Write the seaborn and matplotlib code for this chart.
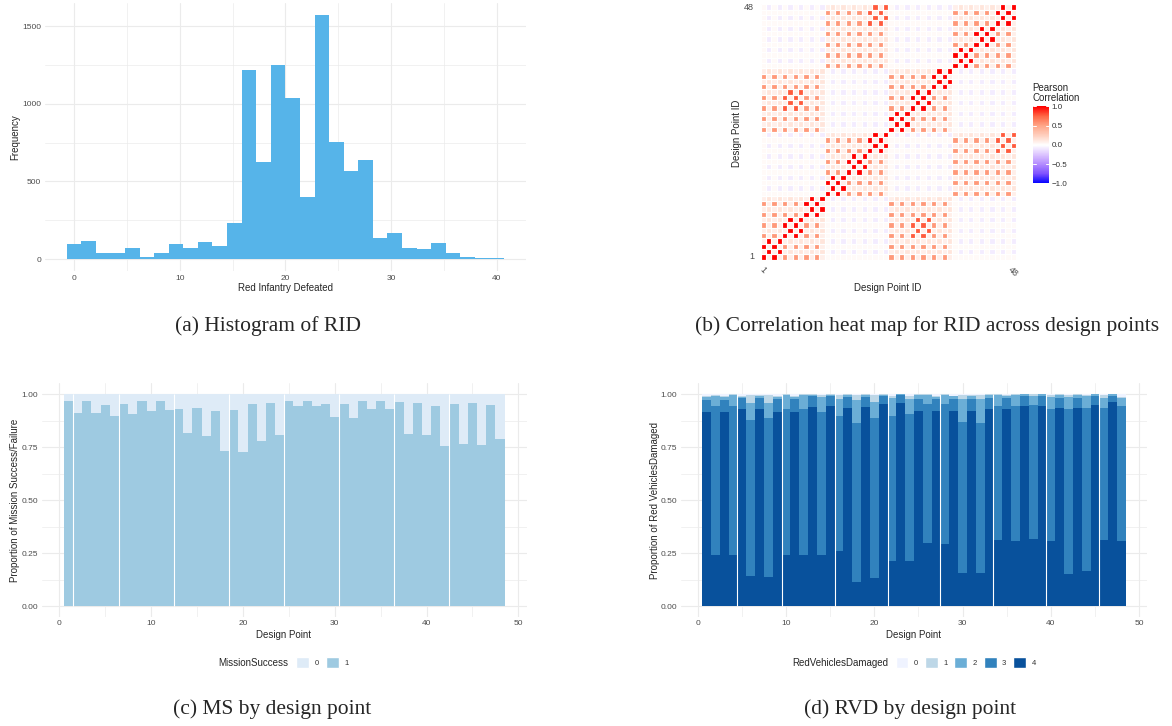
import matplotlib
matplotlib.use("Agg")
import matplotlib.pyplot as plt
from matplotlib.colors import LinearSegmentedColormap
from matplotlib.patches import Patch
from matplotlib.ticker import FuncFormatter
import numpy as np
import pandas as pd
import seaborn as sns

W, H = 1172, 726

# (a) Red Infantry Defeated: 30 bins spanning 0..40
rid_min, rid_max = 0, 40
rid_counts = [95, 114, 37, 37, 69, 11, 37, 95, 69, 107, 82, 230, 1216, 623, 1249,
              1036, 398, 1571, 752, 565, 636, 133, 165, 69, 62, 101, 37, 11, 6, 6]

# (b) correlation of RID between design points, coded per cell
corr_levels = {"R": 1.0, "D": 0.78, "S": 0.55, "s": 0.14, "p": 0.08, ".": 0.03, "v": -0.08}
corr_rows = [
    "RpRpSpSpSpSp............SpSpSpSpSpSp............",
    "pRpRpspspsps.v.v.v.v.v.vpspspspspsps.v.v.v.v.v.v",
    "RpRpSpSpSpSp............SpSpSpSpSpSp............",
    "pRpRpspspsps.v.v.v.v.v.vpspspspspsps.v.v.v.v.v.v",
    "SpSpRpRpSpSp............SpSpDpDpSpSp............",
    "pspspRpRpsps.v.v.v.v.v.vpspspDpDpsps.v.v.v.v.v.v",
    "SpSpRpRpSpSp............SpSpDpDpSpSp............",
    "pspspRpRpsps.v.v.v.v.v.vpspspDpDpsps.v.v.v.v.v.v",
    "SpSpSpSpRpRp............SpSpSpSpSpSp............",
    "pspspspspRpR.v.v.v.v.v.vpspspspspsps.v.v.v.v.v.v",
    "SpSpSpSpRpRp............SpSpSpSpSpSp............",
    "pspspspspRpR.v.v.v.v.v.vpspspspspsps.v.v.v.v.v.v",
    "............RpRpSpSpSpSp............SpSpSpSpSpSp",
    ".v.v.v.v.v.vpRpRpspspsps.v.v.v.v.v.vpspspspspsps",
    "............RpRpSpSpSpSp............SpSpSpSpSpSp",
    ".v.v.v.v.v.vpRpRpspspsps.v.v.v.v.v.vpspspspspsps",
    "............SpSpRpRpSpSp............SpSpSpSpSpSp",
    ".v.v.v.v.v.vpspspRpRpsps.v.v.v.v.v.vpspspspspsps",
    "............SpSpRpRpSpSp............SpSpSpSpSpSp",
    ".v.v.v.v.v.vpspspRpRpsps.v.v.v.v.v.vpspspspspsps",
    "............SpSpSpSpRpRp............SpSpSpSpDpDp",
    ".v.v.v.v.v.vpspspspspRpR.v.v.v.v.v.vpspspspspDpD",
    "............SpSpSpSpRpRp............SpSpSpSpDpDp",
    ".v.v.v.v.v.vpspspspspRpR.v.v.v.v.v.vpspspspspDpD",
    "SpSpSpSpSpSp............RpRpSpSpSpSp............",
    "pspspspspsps.v.v.v.v.v.vpRpRpspspsps.v.v.v.v.v.v",
    "SpSpSpSpSpSp............RpRpSpSpSpSp............",
    "pspspspspsps.v.v.v.v.v.vpRpRpspspsps.v.v.v.v.v.v",
    "SpSpDpDpSpSp............SpSpRpRpSpSp............",
    "pspspDpDpsps.v.v.v.v.v.vpspspRpRpsps.v.v.v.v.v.v",
    "SpSpDpDpSpSp............SpSpRpRpSpSp............",
    "pspspDpDpsps.v.v.v.v.v.vpspspRpRpsps.v.v.v.v.v.v",
    "SpSpSpSpSpSp............SpSpSpSpRpRp............",
    "pspspspspsps.v.v.v.v.v.vpspspspspRpR.v.v.v.v.v.v",
    "SpSpSpSpSpSp............SpSpSpSpRpRp............",
    "pspspspspsps.v.v.v.v.v.vpspspspspRpR.v.v.v.v.v.v",
    "............SpSpSpSpSpSp............RpRpSpSpSpSp",
    ".v.v.v.v.v.vpspspspspsps.v.v.v.v.v.vpRpRpspspsps",
    "............SpSpSpSpSpSp............RpRpSpSpSpSp",
    ".v.v.v.v.v.vpspspspspsps.v.v.v.v.v.vpRpRpspspsps",
    "............SpSpSpSpSpSp............SpSpRpRpSpSp",
    ".v.v.v.v.v.vpspspspspsps.v.v.v.v.v.vpspspRpRpsps",
    "............SpSpSpSpSpSp............SpSpRpRpSpSp",
    ".v.v.v.v.v.vpspspspspsps.v.v.v.v.v.vpspspRpRpsps",
    "............SpSpSpSpDpDp............SpSpSpSpRpRp",
    ".v.v.v.v.v.vpspspspspDpD.v.v.v.v.v.vpspspspspRpR",
    "............SpSpSpSpDpDp............SpSpSpSpRpRp",
    ".v.v.v.v.v.vpspspspspDpD.v.v.v.v.v.vpspspspspRpR",
]

# (c) proportion of mission success per design point
design_points = list(range(1, 49))
ms_success = [0.967, 0.910, 0.967, 0.910, 0.948, 0.896, 0.953, 0.906, 0.967, 0.920, 0.967, 0.925,
              0.929, 0.816, 0.934, 0.802, 0.920, 0.732, 0.925, 0.727, 0.953, 0.779, 0.958, 0.807,
              0.967, 0.943, 0.967, 0.943, 0.953, 0.892, 0.953, 0.887, 0.967, 0.929, 0.967, 0.929,
              0.962, 0.812, 0.958, 0.807, 0.943, 0.755, 0.953, 0.765, 0.958, 0.760, 0.948, 0.788]
ms_gaps = [1.5, 6.5, 12.5, 18.5, 24.5, 30.5, 36.5, 42.5]

# (d) proportion of red vehicles damaged (levels 0..4) per design point
rvd_4 = [.917, .243, .917, .243, .931, .143, .931, .140, .917, .243, .917, .243,
         .939, .243, .943, .261, .934, .115, .939, .133, .953, .213, .958, .213,
         .920, .298, .920, .294, .920, .157, .920, .157, .929, .312, .929, .308,
         .943, .317, .943, .308, .934, .152, .934, .166, .948, .312, .962, .308]
rvd_3 = [.055, .700, .055, .700, .052, .735, .052, .747, .059, .686, .059, .686,
         .053, .672, .049, .635, .053, .748, .048, .754, .038, .683, .037, .693,
         .056, .655, .056, .659, .056, .711, .056, .706, .054, .631, .054, .635,
         .049, .631, .049, .621, .049, .777, .049, .768, .044, .622, .030, .635]
rvd_2 = [.013, .047, .012, .054, .004, .080, .007, .071, .009, .068, .010, .068,
         .005, .072, .005, .080, .008, .109, .010, .075, .006, .085, .005, .070,
         .019, .042, .010, .044, .014, .108, .014, .113, .012, .054, .007, .054,
         .008, .044, .008, .058, .012, .058, .012, .058, .008, .047, .008, .038]
rvd_1 = [.005, .007, .006, .003, .005, .039, .005, .039, .005, .003, .004, .003,
         .003, .010, .003, .021, .005, .025, .003, .035, .003, .009, .000, .014,
         .005, .005, .004, .003, .000, .019, .005, .019, .005, .003, .005, .003,
         .000, .008, .000, .010, .005, .008, .005, .005, .000, .014, .000, .006]
rvd_0 = [.010, .003, .010, .000, .008, .003, .005, .003, .010, .000, .010, .000,
         .000, .003, .000, .003, .000, .003, .000, .003, .000, .010, .000, .010,
         .000, .000, .010, .000, .010, .005, .005, .005, .000, .000, .005, .000,
         .000, .000, .000, .003, .000, .005, .000, .003, .000, .005, .000, .013]
rvd_gaps = [4.5, 9.5, 15.5, 21.5, 27.5, 33.5, 39.5, 45.5]

hist_color = "#56B4E9"
ms_colors = ["#DEEBF7", "#9ECAE1"]
rvd_colors = ["#EFF3FF", "#BDD7E7", "#6BAED6", "#3182BD", "#08519C"]
grid_color = "#EBEBEB"
tick_color = "#4D4D4D"

sns.set_theme(style="white")
plt.rcParams["font.family"] = ["Liberation Sans", "DejaVu Sans"]

fig = plt.figure(figsize=(W / 100, H / 100), dpi=100)


def box(left, top, right, bottom):
    return [left / W, 1 - bottom / H, (right - left) / W, (bottom - top) / H]


def ftext(x, y, s, **kw):
    kw.setdefault("ha", "center")
    kw.setdefault("va", "center")
    fig.text(x / W, 1 - y / H, s, **kw)


def style_axes(ax, xticks, yticks, xminor, yminor, ylabels=None):
    ax.set_xticks(xticks)
    ax.set_yticks(yticks)
    if ylabels is not None:
        ax.set_yticklabels(ylabels)
    ax.set_xticks(xminor, minor=True)
    ax.set_yticks(yminor, minor=True)
    ax.grid(True, which="major", color=grid_color, lw=0.8)
    ax.grid(True, which="minor", color=grid_color, lw=0.5)
    ax.set_axisbelow(True)
    for sp in ax.spines.values():
        sp.set_visible(False)
    ax.tick_params(which="both", length=0, labelsize=6, labelcolor=tick_color)
    ax.tick_params(axis="x", pad=2.4)
    ax.tick_params(axis="y", pad=2.6)
    ax.set_xlabel("")
    ax.set_ylabel("")


# ---- (a) histogram ----
ax_a = fig.add_axes(box(44.8, 2.8, 526, 271.2))
bw = (rid_max - rid_min) / (len(rid_counts) - 1)
rid_centres = np.linspace(rid_min, rid_max, len(rid_counts))
sns.histplot(x=rid_centres, weights=rid_counts, bins=len(rid_counts),
             binrange=(rid_min - bw / 2, rid_max + bw / 2), color=hist_color,
             alpha=1, linewidth=0, ax=ax_a)
pad_x = (rid_max - rid_min + bw) * 0.05
ax_a.set_xlim(rid_min - bw / 2 - pad_x, rid_max + bw / 2 + pad_x)
ax_a.set_ylim(-max(rid_counts) * 0.05, max(rid_counts) * 1.05)
style_axes(ax_a, [0, 10, 20, 30, 40], [0, 500, 1000, 1500], [5, 15, 25, 35], [250, 750, 1250])
ftext(285, 288, "Red Infantry Defeated", fontsize=7)
ftext(15, 137, "Frequency", fontsize=7, rotation=90)

# ---- (b) correlation heat map ----
cmap = LinearSegmentedColormap.from_list("rwb", [
    (0.0, "#0000FF"), (0.125, "#7E51FF"), (0.25, "#B38BFF"), (0.375, "#DCC4FF"),
    (0.5, "#FFFFFF"), (0.625, "#FFCFBE"), (0.75, "#FFA688"), (0.875, "#FF6846"),
    (1.0, "#FF0000")])
corr = pd.DataFrame([[corr_levels[c] for c in row] for row in corr_rows],
                    index=design_points, columns=design_points)
ax_b = fig.add_axes(box(759.6, 3.3, 1017.1, 260.7))
cax = fig.add_axes(box(1032.5, 106.5, 1049.2, 183.5))
sns.heatmap(corr, ax=ax_b, cmap=cmap, vmin=-1, vmax=1, linewidths=0,
            cbar_ax=cax, cbar_kws={"ticks": [-1, -0.5, 0, 0.5, 1]})
n = len(design_points)
# white tile borders, one line per boundary
ax_b.vlines(np.arange(n + 1), 0, n, colors="white", lw=0.85)
ax_b.hlines(np.arange(n + 1), 0, n, colors="white", lw=0.85)
ax_b.set_xlim(-0.2, n + 0.2)
ax_b.set_ylim(-0.2, n + 0.2)
ax_b.set_xticks([0.5, n - 0.5])
ax_b.set_xticklabels(["1", str(n)], rotation=-45, ha="center", va="top")
ax_b.set_yticks([0.5, n - 0.5])
ax_b.set_yticklabels(["1", str(n)], rotation=0)
ax_b.tick_params(length=0, labelsize=6.5, labelcolor=tick_color, pad=4)
ax_b.tick_params(axis="x", pad=3)
ax_b.set_xlabel("")
ax_b.set_ylabel("")
ftext(888, 288, "Design Point ID", fontsize=7)
ftext(737, 133, "Design Point ID", fontsize=7, rotation=90)

cbar = ax_b.collections[0].colorbar
cbar.outline.set_visible(False)
cax.tick_params(length=0, labelsize=5.8, labelcolor="#333333", pad=1.5)
cax.yaxis.set_major_formatter(FuncFormatter(lambda v, p: f"{v:.1f}".replace("-", "\u2212")))
for t in [-1, -0.5, 0, 0.5, 1]:
    cax.plot([0, 0.2], [t, t], color="white", lw=0.7)
    cax.plot([0.8, 1], [t, t], color="white", lw=0.7)
cax.set_xlim(0, 1)
ftext(1032.5, 93, "Pearson\nCorrelation", fontsize=7, ha="left", linespacing=1.05)

# ---- (c) mission success ----
ax_c = fig.add_axes(box(41.9, 383.4, 526.6, 616.9))
ms_total = np.array(ms_success) + (1 - np.array(ms_success))
sns.barplot(x=design_points, y=ms_total, native_scale=True, width=1, color=ms_colors[0],
            saturation=1, errorbar=None, linewidth=0, ax=ax_c)
sns.barplot(x=design_points, y=ms_success, native_scale=True, width=1, color=ms_colors[1],
            saturation=1, errorbar=None, linewidth=0, ax=ax_c)
ax_c.vlines(ms_gaps, 0, 1, colors="white", lw=0.8)
ax_c.set_xlim(-1.9, 50.9)
ax_c.set_ylim(-0.05, 1.05)
yt = [0, 0.25, 0.5, 0.75, 1.0]
style_axes(ax_c, [0, 10, 20, 30, 40, 50], yt, [5, 15, 25, 35, 45],
           [0.125, 0.375, 0.625, 0.875], [f"{v:.2f}" for v in yt])
ftext(284, 635, "Design Point", fontsize=7)
ftext(15, 500, "Proportion of Mission Success/Failure", fontsize=7, rotation=90)
ftext(288, 662.5, "MissionSuccess", fontsize=7, ha="right")
fig.legend([Patch(facecolor=c) for c in ms_colors], ["0", "1"], ncol=2,
           loc="center left", bbox_to_anchor=(295.5 / W, 1 - 662.5 / H), frameon=False,
           fontsize=5.5, handlelength=1.8, handleheight=1.8, handletextpad=0.7,
           columnspacing=0.9, borderpad=0, borderaxespad=0, labelcolor="#333333")

# ---- (d) red vehicles damaged ----
ax_d = fig.add_axes(box(680.9, 383.4, 1147.1, 616.9))
levels = np.array([rvd_0, rvd_1, rvd_2, rvd_3, rvd_4])
total = levels.sum(axis=0)
for k in range(5):
    cum = levels[k:].sum(axis=0) / total
    sns.barplot(x=design_points, y=cum, native_scale=True, width=1, color=rvd_colors[k],
                saturation=1, errorbar=None, linewidth=0, ax=ax_d)
ax_d.vlines(rvd_gaps, 0, 1, colors="white", lw=0.8)
ax_d.set_xlim(-1.9, 50.9)
ax_d.set_ylim(-0.05, 1.05)
style_axes(ax_d, [0, 10, 20, 30, 40, 50], yt, [5, 15, 25, 35, 45],
           [0.125, 0.375, 0.625, 0.875], [f"{v:.2f}" for v in yt])
ftext(914, 635, "Design Point", fontsize=7)
ftext(655, 500.5, "Proportion of Red VehiclesDamaged", fontsize=7, rotation=90)
ftext(888, 662.5, "RedVehiclesDamaged", fontsize=7, ha="right")
fig.legend([Patch(facecolor=c) for c in rvd_colors], ["0", "1", "2", "3", "4"], ncol=5,
           loc="center left", bbox_to_anchor=(895.5 / W, 1 - 662.5 / H), frameon=False,
           fontsize=5.5, handlelength=1.7, handleheight=1.7, handletextpad=0.7,
           columnspacing=0.9, borderpad=0, borderaxespad=0, labelcolor="#333333")

# ---- captions ----
cap = dict(family=["Liberation Serif", "DejaVu Serif"], fontsize=15.5)
ftext(268, 326, "(a) Histogram of RID", **cap)
ftext(927, 326, "(b) Correlation heat map for RID across design points", **cap)
ftext(272, 709, "(c) MS by design point", **cap)
ftext(910, 709, "(d) RVD by design point", **cap)

fig.savefig("out.png", dpi=100)
